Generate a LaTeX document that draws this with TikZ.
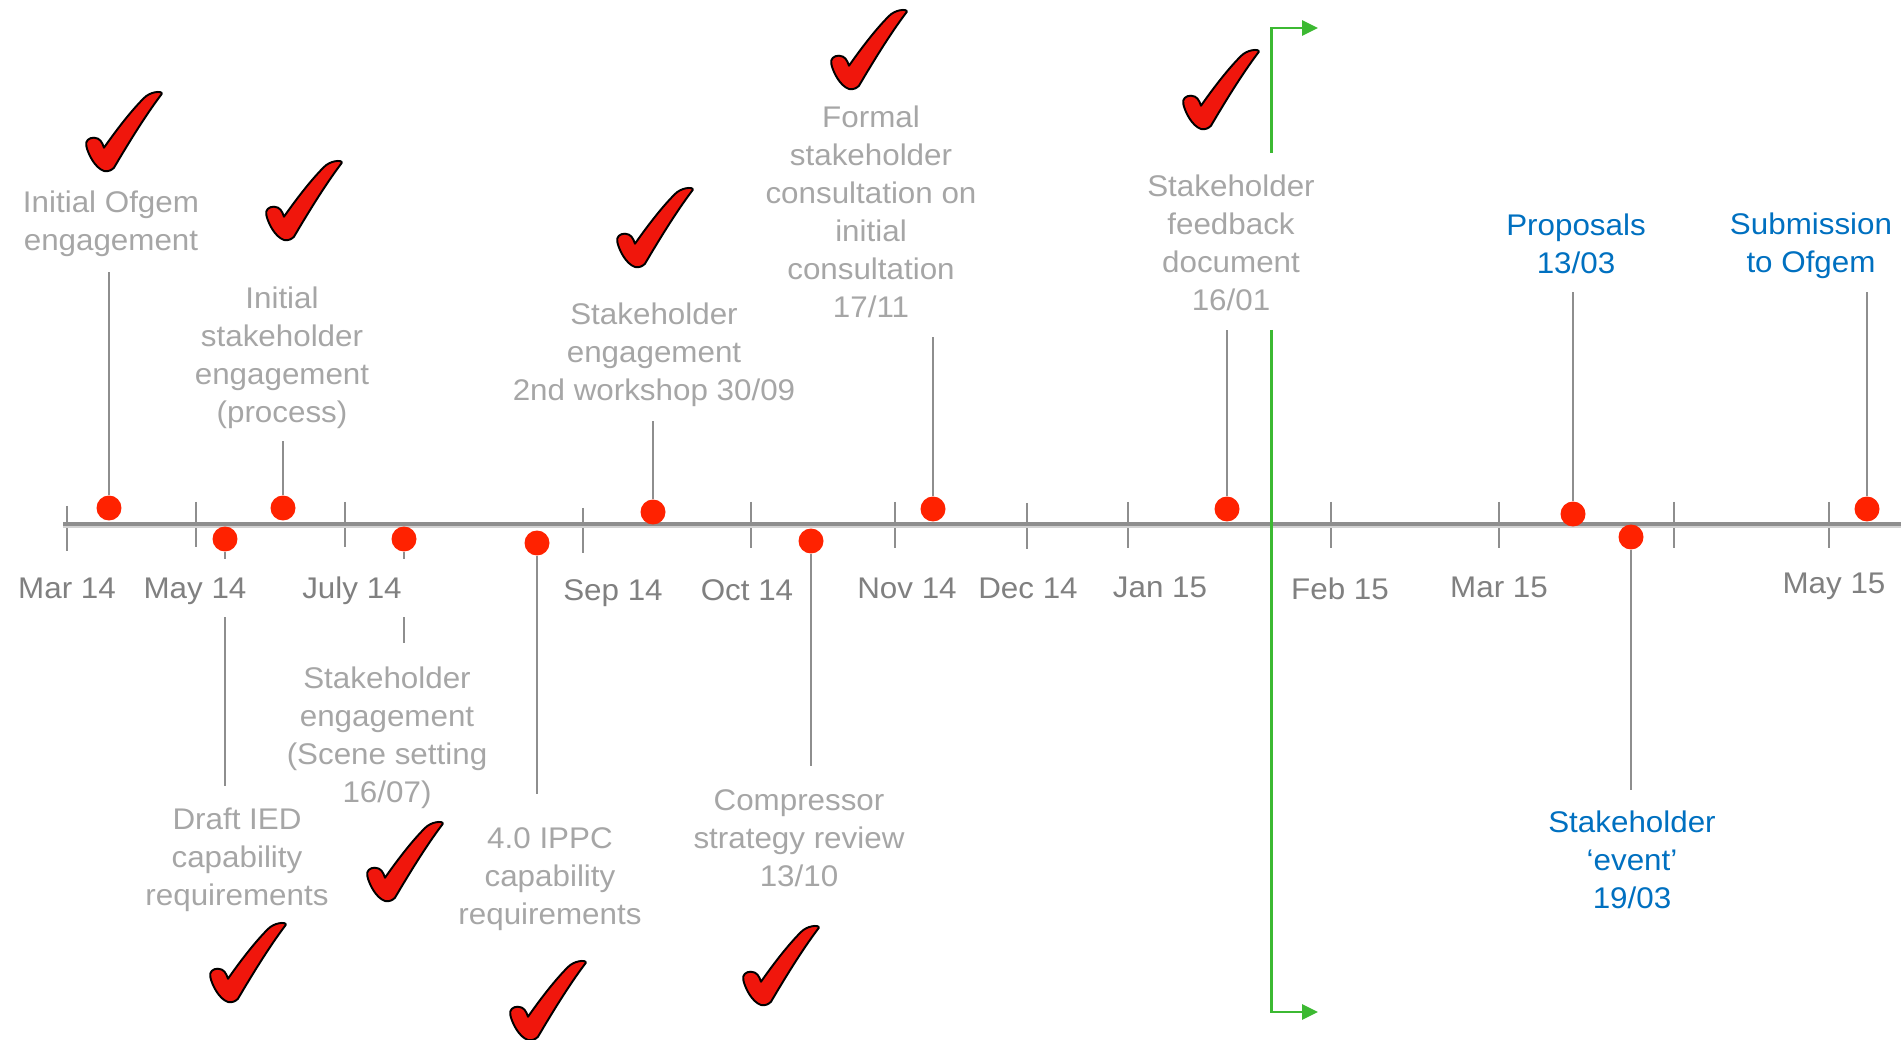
\documentclass[tikz,border=0pt]{standalone}
\usepackage{fontspec}
\setmainfont{Liberation Sans}[FakeStretch=1.05]
\usetikzlibrary{arrows.meta}

\definecolor{lblgray}{RGB}{166,166,166}
\definecolor{mongray}{RGB}{128,128,128}
\definecolor{axisgray}{RGB}{142,142,142}
\definecolor{axisshadow}{RGB}{210,210,210}
\definecolor{dotred}{RGB}{255,34,0}
\definecolor{tickred}{RGB}{240,22,12}
\definecolor{planblue}{RGB}{0,112,192}
\definecolor{nowgreen}{RGB}{60,185,50}

\newcommand\lblsize{\fontsize{17}{21.6}\selectfont}

\tikzset{
  donemark/.pic={
    \draw [line width=1.1pt, fill=tickred, line join=round]
      (19,55.7) .. controls (17,50) and (15,46) .. (9,45.7)
      .. controls (4,45.5) and (0,49) .. (1.3,54)
      .. controls (3,62) and (10,76) .. (19,79)
      .. controls (23,80) and (27,78) .. (29,75.7)
      .. controls (43,52) and (60,24) .. (76.7,2)
      .. controls (77.5,0) and (74,-0.5) .. (70,0.3)
      .. controls (66,1) and (62,3) .. (59,6)
      .. controls (45,20) and (30,40) .. (19,55.7) -- cycle;
  }
}

\begin{document}
\begin{tikzpicture}[x=0.02cm, y=-0.02cm,
    event/.style={circle, fill=dotred, inner sep=0pt, minimum size=0.5cm},
    lbl/.style={align=center, text=lblgray, font=\lblsize, inner sep=0pt},
    plan/.style={lbl, text=planblue},
    month/.style={fill=white, text=mongray, font=\lblsize, text height=0.43cm,
      text depth=0pt, inner xsep=0.1cm, inner ysep=0.37cm},
    lead/.style={draw=axisgray, line width=1.1pt},
    now/.style={draw=nowgreen, line width=1.7pt,
      -{Triangle[length=0.32cm, width=0.3cm]}}]

        \useasboundingbox (0,0) rectangle (1901,1040);

        \foreach \x/\a/\b in {67/506/551, 196/502/547, 345/502/547, 583/508/553,
            751/502/548, 895/502/548, 1027/503/549, 1128/502/548,
            1331/502/548, 1499/502/548, 1674/502/548, 1829/502/548}
          \draw [lead] (\x,\a) -- (\x,\b);

        \coordinate (start) at (63,524);
        \coordinate (end)   at (1901,524);
        \draw [axisshadow, line width=3.4pt] ([yshift=-1.5*0.02cm]start) -- ([yshift=-1.5*0.02cm]end);
        \draw [axisgray, line width=2.4pt] (start) -- (end);

        \node [event] (d1)  at (109,508)  {};
        \node [event] (d2)  at (225,539)  {};
        \node [event] (d3)  at (283,508)  {};
        \node [event] (d4)  at (404,539)  {};
        \node [event] (d5)  at (537,543)  {};
        \node [event] (d6)  at (653,512)  {};
        \node [event] (d7)  at (811,541)  {};
        \node [event] (d8)  at (933,509)  {};
        \node [event] (d9)  at (1227,509) {};
        \node [event] (d10) at (1573,514) {};
        \node [event] (d11) at (1631,537) {};
        \node [event] (d12) at (1867,509) {};

        \coordinate (e1)  at (109,272);
        \coordinate (e2)  at (225,786);
        \coordinate (e3)  at (283,441);
        \coordinate (e4)  at (404,643);
        \coordinate (e5)  at (537,794);
        \coordinate (e6)  at (653,421);
        \coordinate (e7)  at (811,766);
        \coordinate (e8)  at (933,337);
        \coordinate (e9)  at (1227,330);
        \coordinate (e10) at (1573,292);
        \coordinate (e11) at (1631,790);
        \coordinate (e12) at (1867,292);

        \foreach \i in {1,...,12}
          \draw [lead] (d\i) -- (e\i);

        \foreach \x/\y/\m [count=\i] in {67/588/Mar 14, 195/588/May 14, 352/588/July 14,
            613/590/Sep 14, 747/590/Oct 14, 907/588/Nov 14, 1028/588/Dec 14,
            1160/587/Jan 15, 1340/589/Feb 15, 1499/587/Mar 15, 1834/583/May 15}
          \node [month] (m\i) at (\x,\y) {\m};

        \node [lbl]  (lab1)  at (111,224)  {Initial Ofgem\\engagement};
        \node [lbl]  (lab2)  at (282,358)  {Initial\\stakeholder\\engagement\\(process)};
        \node [lbl]  (lab3)  at (654,355)  {Stakeholder\\engagement\\2nd workshop 30/09};
        \node [lbl]  (lab4)  at (871,212)  {Formal\\stakeholder\\consultation on\\initial\\consultation\\17/11};
        \node [lbl]  (lab5)  at (1231,243) {Stakeholder\\feedback\\document\\16/01};
        \node [plan] (lab6)  at (1576,244) {Proposals\\13/03};
        \node [plan] (lab7)  at (1811,246) {Submission\\to Ofgem};
        \node [lbl]  (lab8)  at (387,738)  {Stakeholder\\engagement\\(Scene setting\\16/07)};
        \node [lbl]  (lab9)  at (237,860)  {Draft IED\\capability\\requirements};
        \node [lbl]  (lab10) at (550,879)  {4.0 IPPC\\capability\\requirements};
        \node [lbl]  (lab11) at (799,838)  {Compressor\\strategy review\\13/10};
        \node [plan] (lab12) at (1632,860) {Stakeholder\\‘event’\\19/03};

        \foreach \x/\y in {85/92, 265/161, 616/188, 830/10, 1182/50,
            366/822, 209/923, 509/961, 742/926}
          \pic at (\x,\y) {donemark};

        \coordinate (g1) at (1271,153);
        \coordinate (g2) at (1271,28);
        \coordinate (g3) at (1318,28);
        \coordinate (g4) at (1271,330);
        \coordinate (g5) at (1271,1012);
        \coordinate (g6) at (1318,1012);

        \draw [now] (g1) -- (g2) -- (g3);
        \draw [now] (g4) -- (g5) -- (g6);
      \end{tikzpicture}
\end{document}
